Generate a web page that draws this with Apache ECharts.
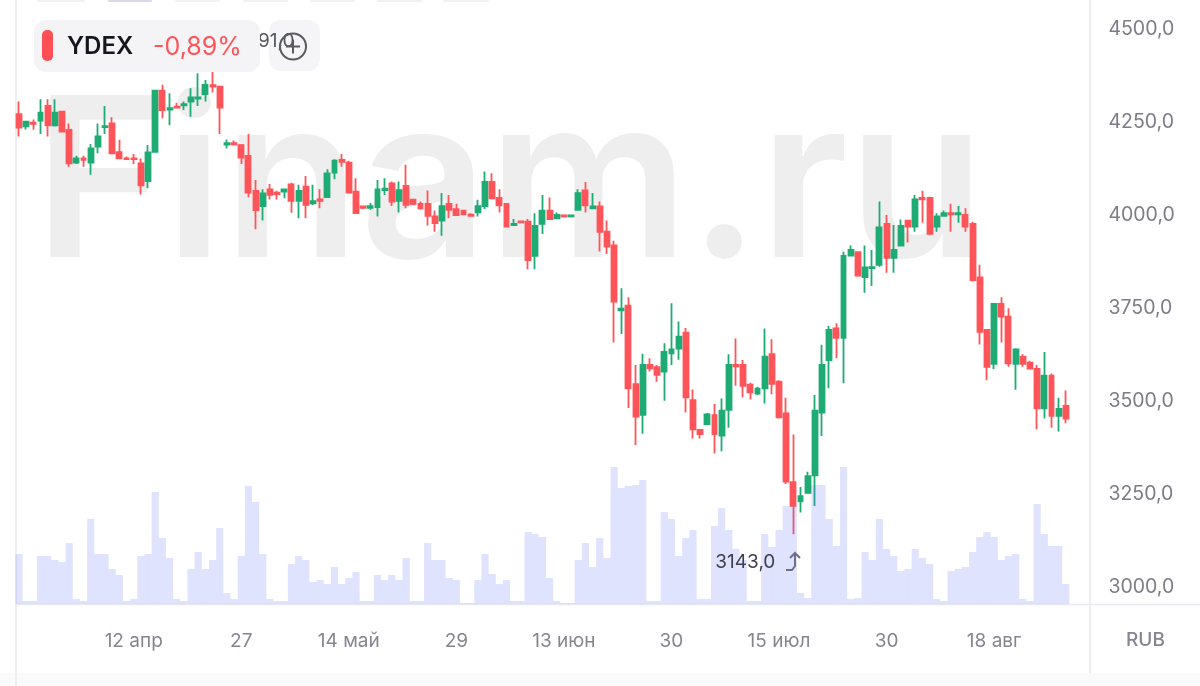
<!DOCTYPE html>
<html><head><meta charset="utf-8">
<style>html,body{margin:0;padding:0;background:#fff}#c{width:1200px;height:686px}</style>
<script src="https://cdn.jsdelivr.net/npm/echarts@6/dist/echarts.min.js"></script>
</head><body><div id="c"></div>
<script>
// [open, close, low, high]
const ohlc = [
[4271,4235,4211,4305],[4238,4251,4230,4251],[4248,4245,4229,4257],[4254,4275,4218,4311],[4293,4241,4211,4311],
[4241,4275,4238,4311],[4278,4224,4224,4278],[4229,4139,4130,4246],[4141,4152,4137,4159],[4152,4148,4130,4159],
[4141,4179,4108,4191],[4184,4211,4166,4246],[4236,4239,4218,4293],[4246,4166,4166,4263],[4169,4152,4150,4202],
[4152,4150,4148,4157],[4152,4150,4137,4164],[4139,4080,4055,4152],[4091,4168,4072,4188],[4170,4334,4170,4334],
[4334,4282,4260,4350],[4283,4287,4241,4327],[4291,4289,4287,4302],[4295,4298,4282,4305],[4305,4316,4264,4341],
[4313,4316,4293,4381],[4325,4350,4305,4363],[4349,4345,4329,4385],[4345,4289,4218,4347],[4189,4193,4179,4203],
[4193,4190,4187,4200],[4188,4154,4137,4191],[4159,4060,4048,4218],[4065,4013,3962,4094],[4024,4058,3985,4069],
[4069,4054,4042,4083],[4060,4056,4042,4065],[4063,4069,4045,4071],[4082,4038,4006,4087],[4038,4065,3991,4081],
[4076,4027,3991,4105],[4031,4037,4027,4081],[4042,4038,4018,4069],[4048,4112,4048,4123],[4114,4146,4096,4150],
[4148,4143,4130,4164],[4141,4060,4057,4146],[4063,4005,4005,4099],[4023,4019,4016,4024],[4019,4024,4014,4032],
[4021,4069,3996,4094],[4067,4071,4054,4099],[4085,4036,4024,4090],[4038,4067,4007,4090],[4078,4027,4018,4135],
[4041,4030,4027,4041],[4030,4018,4014,4036],[4030,3998,3972,4066],[3996,3978,3955,4012],[3985,4024,3944,4059],
[4030,4014,3991,4054],[4016,4000,3998,4030],[4012,4002,4000,4012],[4001,3998,3996,4005],[4007,4024,3996,4041],
[4024,4089,4016,4117],[4089,4045,4042,4112],[4046,4026,4007,4069],[4030,3969,3967,4030],[3973,3976,3971,3989],
[3983,3980,3978,3985],[3982,3879,3854,3989],[3890,3971,3854,4005],[3976,4012,3949,4054],[4012,3989,3987,4047],
[3991,4000,3989,4007],[3999,3996,3996,3999],[3996,3999,3996,3999],[4014,4059,4014,4069],[4066,4026,4007,4089],
[4018,4023,4016,4059],[4023,3955,3902,4036],[3955,3915,3895,3985],[3918,3767,3657,3931],[3744,3748,3680,3803],
[3756,3534,3481,3779],[3545,3458,3382,3597],[3463,3597,3412,3627],[3597,3588,3579,3615],[3591,3570,3552,3597],
[3579,3632,3501,3655],[3628,3639,3597,3763],[3641,3673,3611,3714],[3684,3510,3469,3696],[3502,3424,3399,3531],
[3422,3411,3399,3422],[3438,3464,3435,3468],[3462,3411,3359,3492],[3407,3474,3365,3507],[3476,3597,3428,3626],
[3597,3593,3541,3668],[3597,3541,3510,3610],[3544,3523,3504,3549],[3520,3533,3516,3538],[3534,3619,3493,3695],
[3626,3546,3518,3666],[3552,3456,3453,3556],[3467,3283,3277,3509],[3282,3218,3142,3410],[3230,3244,3200,3269],
[3253,3298,3253,3310],[3300,3474,3218,3516],[3469,3597,3406,3651],[3610,3691,3534,3702],[3695,3670,3615,3709],
[3670,3890,3548,3901],[3891,3906,3890,3918],[3900,3837,3834,3901],[3833,3859,3791,3918],[3857,3860,3809,3906],
[3866,3967,3861,4036],[3976,3885,3845,4000],[3885,3906,3845,3973],[3918,3971,3915,3988],[3985,3969,3926,3987],
[3969,4042,3955,4054],[4046,4042,3979,4065],[4046,3949,3946,4049],[3969,3996,3955,4005],[3998,4005,3997,4012],
[4005,4002,3955,4030],[4002,4005,3979,4024],[4000,3969,3955,4018],[3976,3825,3821,3982],[3832,3686,3652,3866],
[3691,3592,3556,3691],[3600,3761,3586,3763],[3761,3727,3657,3779],[3727,3601,3592,3749],[3600,3639,3530,3642],
[3619,3600,3592,3626],[3603,3587,3586,3608],[3586,3480,3424,3597],[3480,3568,3453,3632],[3568,3460,3428,3574],
[3460,3479,3418,3509],[3487,3453,3440,3528]
];
const volumes = [
50,3,3,48,48,44,42,61,5,3,85,50,50,35,29,3,5,48,50,112,66,46,5,3,35,52,35,44,76,11,
5,48,118,102,50,5,3,3,40,48,44,22,24,20,37,20,26,32,3,3,29,24,29,24,46,3,3,61,44,44,
26,24,1,1,24,50,30,20,24,3,3,72,70,67,26,3,1,1,44,61,37,66,46,138,116,118,119,124,3,3,
92,85,48,66,74,5,5,78,96,74,55,44,3,3,70,57,74,98,98,11,6,119,119,85,58,138,5,6,52,44,
85,55,48,33,35,55,46,40,5,3,33,35,37,52,67,72,67,44,48,50,5,3,100,70,58,58,20
];
const tickIndex = [16,31,46,61,76,91,106,121,136];
const tickLabels = ['12 апр','27','14 май','29','13 июн','30','15 июл','30','18 авг'];
const categories = Array.from({length:150},(_,i)=>{const k=tickIndex.indexOf(i);return k>=0?tickLabels[k]:''});
const lowValue = 3143.0, lowIndex = 108;

const FONT = 'Inter, "Noto Sans", sans-serif';
const chart = echarts.init(document.getElementById('c'),null,{renderer:'canvas'});
const gL=15.4, gW=1075.5;
const topTabs = [[37,48,'#f1f1f4'],[108,44,'#d9d9e8'],[175,45,'#f1f1f4'],[243,45,'#f1f1f4'],[310,45,'#f1f1f4'],[377,45,'#f1f1f4'],[443,46,'#f1f1f4']];
chart.setOption({
  animation:false,
  backgroundColor:'#fff',
  grid:[
    {left:gL,width:gW,top:29,height:558},
    {left:gL,width:gW,top:467,height:137}
  ],
  xAxis:[
    {type:'category',gridIndex:0,data:categories,boundaryGap:true,axisLine:{show:false},axisTick:{show:false},axisLabel:{show:false},splitLine:{show:false}},
    {type:'category',gridIndex:1,data:categories,boundaryGap:true,axisLine:{show:false},axisTick:{show:false},splitLine:{show:false},
     axisLabel:{show:true,interval:0,hideOverlap:false,margin:37,fontFamily:FONT,fontSize:19,color:'#85858f',align:'center',verticalAlign:'middle',
       formatter:(v)=>v}}
  ],
  yAxis:[
    {type:'value',gridIndex:0,position:'right',min:3000,max:4500,interval:250,scale:true,
     axisLine:{show:false},axisTick:{show:false},splitLine:{show:false},
     axisLabel:{show:true,margin:17.5,padding:[2,0,0,0],fontFamily:FONT,fontSize:19.5,color:'#7c7c86',formatter:v=>v.toFixed(1).replace('.',',')}},
    {type:'value',gridIndex:1,min:0,max:137,axisLine:{show:false},axisTick:{show:false},splitLine:{show:false},axisLabel:{show:false}}
  ],
  series:[
    {type:'candlestick',xAxisIndex:0,yAxisIndex:0,data:ohlc,barWidth:5.4,z:3,silent:true,
     itemStyle:{color:'#1eab74',color0:'#ff5459',borderColor:'#1eab74',borderColor0:'#ff5459',borderWidth:1.8},
     markPoint:{symbol:'circle',symbolSize:0,silent:true,data:[{coord:[lowIndex,lowValue]}],
       label:{show:true,formatter:lowValue.toFixed(1).replace('.',','),position:'inside',offset:[-48,28],fontFamily:FONT,fontSize:19,color:'#3e3e50'}}},
    {type:'bar',xAxisIndex:1,yAxisIndex:1,data:volumes,barWidth:'100%',z:4,silent:true,itemStyle:{color:'rgba(95,115,245,0.2)'}}
  ],
  graphic:[
    {type:'rect',z:-10,silent:true,shape:{x:0,y:673,width:1200,height:13},style:{fill:'#fafafa'}},
    {type:'text',z:-5,silent:true,left:34,top:78,style:{text:'Finam.ru',font:'600 223px Inter, sans-serif',fill:'#eeeeee'}},
    {type:'line',z:1,silent:true,shape:{x1:16,y1:0,x2:16,y2:686},style:{stroke:'#eaeaee',lineWidth:1.5}},
    {type:'line',z:1,silent:true,shape:{x1:1090,y1:0,x2:1090,y2:673},style:{stroke:'#e8e8ee',lineWidth:1.5}},
    {type:'line',z:1,silent:true,shape:{x1:16,y1:604.5,x2:1200,y2:604.5},style:{stroke:'#e8e8f0',lineWidth:1.5}},
    {type:'text',z:20,silent:true,left:1126,top:631,style:{text:'RUB',font:'500 19px '+FONT,fill:'#85858f'}},
    ...topTabs.map(t=>({type:'rect',z:1,silent:true,shape:{x:t[0],y:0,width:t[1],height:2,r:1},style:{fill:t[2]}})),
    // toolbar
    {type:'rect',z:30,silent:true,shape:{x:269,y:20,width:51,height:51,r:12},style:{fill:'#f5f5f7'}},
    {type:'text',z:31,silent:true,left:234,top:32,style:{text:'4391,0',font:'19px '+FONT,fill:'#55555f'}},
    {type:'rect',z:32,silent:true,shape:{x:34,y:20,width:226,height:52,r:12},style:{fill:'#f4f4f6'}},
    {type:'rect',z:33,silent:true,shape:{x:42,y:30,width:11,height:31,r:5},style:{fill:'#ff4f55'}},
    {type:'text',z:33,silent:true,left:67,top:35,style:{text:'YDEX',font:'600 24px '+FONT,fill:'#16161f'}},
    {type:'text',z:33,silent:true,left:153,top:35,style:{text:'-0,89%',font:'25px '+FONT,fill:'#ff5459'}},
    {type:'circle',z:33,silent:true,shape:{cx:293,cy:46.5,r:13},style:{fill:'none',stroke:'#5a5a62',lineWidth:2}},
    {type:'line',z:33,silent:true,shape:{x1:286,y1:46.5,x2:300,y2:46.5},style:{stroke:'#5a5a62',lineWidth:2}},
    {type:'line',z:33,silent:true,shape:{x1:293,y1:39.5,x2:293,y2:53.5},style:{stroke:'#5a5a62',lineWidth:2}},
    // low-price arrow
    {type:'polyline',z:20,silent:true,shape:{points:[[786,570],[792,570],[795,566],[795,553]]},style:{fill:'none',stroke:'#6f6f8a',lineWidth:2}},
    {type:'polyline',z:20,silent:true,shape:{points:[[790,558],[795,553],[800,558]]},style:{fill:'none',stroke:'#6f6f8a',lineWidth:2}}
  ]
});
</script></body></html>
